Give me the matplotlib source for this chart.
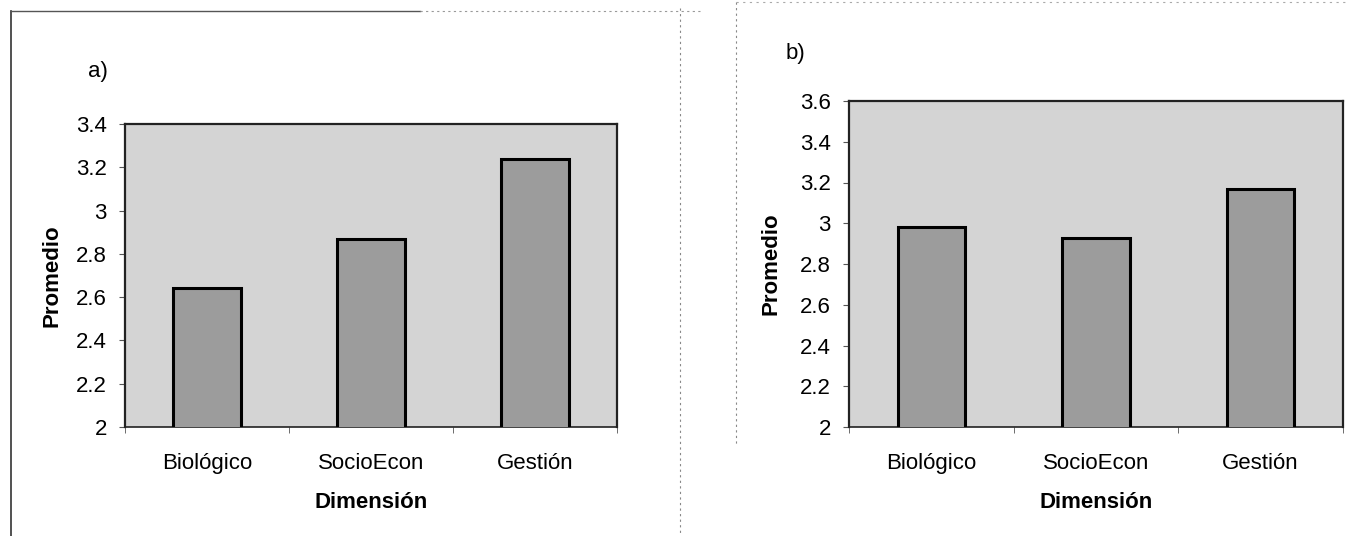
import numpy as np
import matplotlib
matplotlib.use("Agg")
import matplotlib.pyplot as plt
from matplotlib.lines import Line2D

plt.rcParams['font.family'] = ['Liberation Sans', 'DejaVu Sans']

### data
categorias = ['Biológico', 'SocioEcon', 'Gestión']
promedio_a = [2.64, 2.87, 3.24]
promedio_b = [2.98, 2.93, 3.17]

ticks_a = [2, 2.2, 2.4, 2.6, 2.8, 3, 3.2, 3.4]
ticks_b = [2, 2.2, 2.4, 2.6, 2.8, 3, 3.2, 3.4, 3.6]

W, H = 1346, 536
fig = plt.figure(figsize=(W / 100, H / 100), dpi=100)
fig.patch.set_facecolor('white')

def px(x0, y0, x1, y1):
    # pixel box (top-left origin) -> figure fraction rect
    return [x0 / W, 1 - y1 / H, (x1 - x0) / W, (y1 - y0) / H]

fondo = '#d4d4d4'
barra = '#9c9c9c'
fs = 16

def panel(rect, valores, yticks, letra, letra_xy, ylab_x):
    ax = fig.add_axes(rect)
    ax.set_facecolor(fondo)
    x = np.arange(len(categorias))
    ax.bar(x, valores, width=0.41, bottom=0, color=barra,
           edgecolor='black', linewidth=2.2, zorder=3)
    ax.set_xlim(-0.5, len(categorias) - 0.5)
    ax.set_ylim(yticks[0], yticks[-1])
    ax.set_yticks(yticks)
    ax.set_yticklabels(['{:g}'.format(t) for t in yticks])
    ax.set_xticks(x)
    ax.set_xticklabels(categorias)
    ax.set_xticks(np.arange(len(categorias) + 1) - 0.5, minor=True)
    ax.tick_params(axis='x', which='major', length=0, pad=19, labelsize=fs)
    ax.tick_params(axis='x', which='minor', length=4, direction='out', color='#555555')
    ax.tick_params(axis='y', length=4, pad=9, labelsize=fs, color='#555555')
    for s in ax.spines.values():
        s.set_linewidth(1.6)
        s.set_color('#222222')
    ax.spines['bottom'].set_linewidth(1.2)
    ax.set_xlabel('Dimensión', fontsize=fs, fontweight='bold', labelpad=13)
    ax.set_ylabel('Promedio', fontsize=fs, fontweight='bold')
    ax.yaxis.set_label_coords(ylab_x, 0.5)
    fig.text(letra_xy[0] / W, 1 - letra_xy[1] / H, letra, fontsize=fs,
             ha='center', va='center')
    return ax

ax_a = panel(px(125, 124, 617, 427), promedio_a, ticks_a, 'a)', (98, 71), -0.128)
ax_b = panel(px(849, 101, 1343, 427), promedio_b, ticks_b, 'b)', (795, 54), -0.136)

### scanned frame lines around the panels
def fline(xs, ys, **kw):
    fig.add_artist(Line2D([v / W for v in xs], [1 - v / H for v in ys],
                          transform=fig.transFigure, **kw))

fline([11, 11], [11, 536], color='#333333', lw=1.2)
fline([11, 420], [11, 11], color='#555555', lw=1.0)
fline([420, 700], [11, 11], color='#999999', lw=0.8, ls=(0, (2, 3)))
fline([680, 680], [8, 536], color='#888888', lw=0.8, ls=(0, (2, 3)))
fline([736, 736], [2, 445], color='#888888', lw=0.8, ls=(0, (2, 3)))
fline([736, 1346], [2, 2], color='#aaaaaa', lw=0.8, ls=(0, (2, 4)))

fig.savefig('out.png', dpi=100)
